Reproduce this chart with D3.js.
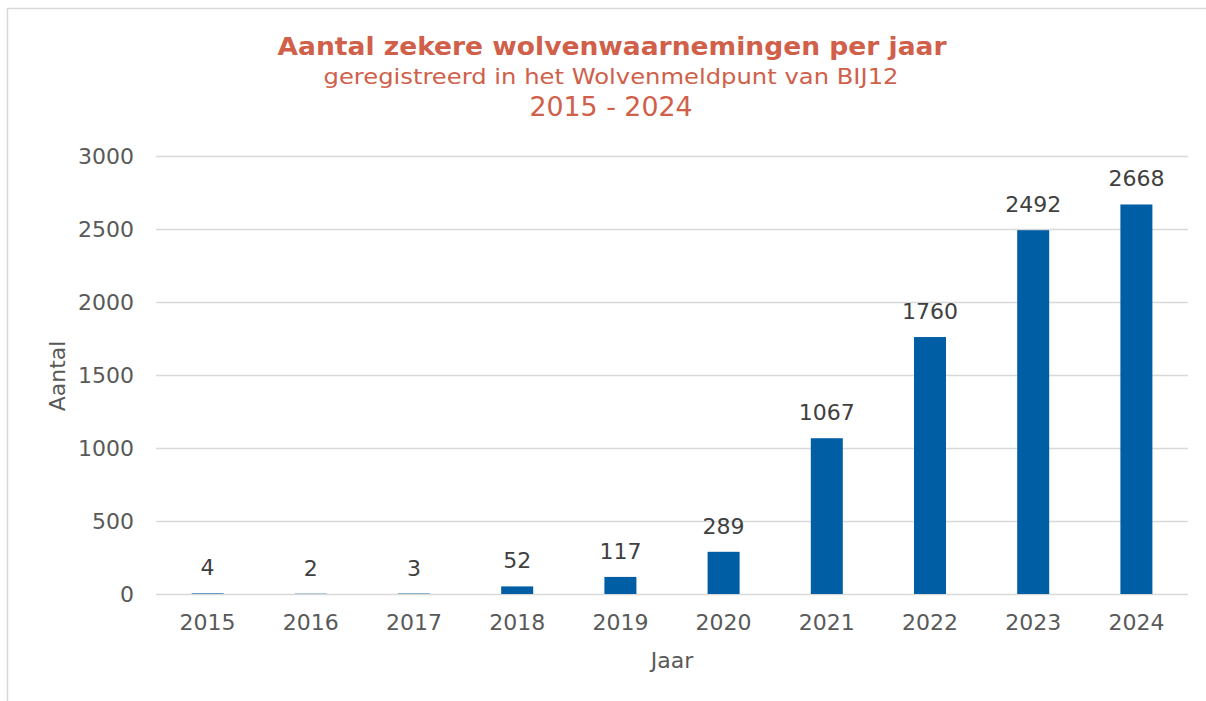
<!DOCTYPE html>
<html>
<head>
<meta charset="utf-8">
<script src="https://cdn.jsdelivr.net/npm/d3@7"></script>
<style>
  body { margin: 0; background: #fff; }
  svg text { font-family: "DejaVu Sans", Verdana, sans-serif; }
</style>
</head>
<body>
<script>
// data
let years = ["2015", "2016", "2017", "2018", "2019", "2020", "2021", "2022", "2023", "2024"];
let counts = [4, 2, 3, 52, 117, 289, 1067, 1760, 2492, 2668];
let yTicks = [0, 500, 1000, 1500, 2000, 2500, 3000];

let width = 1206,
    height = 701;

let margin = {left: 156, right: 18, top: 156, bottom: 107};

let svg = d3.select("body").append("svg")
    .attr("width", width)
    .attr("height", height);

// chart frame (only left and top edges show)
svg.append("rect")
    .attr("x", 7.5).attr("y", 8.5)
    .attr("width", 1300).attr("height", 800)
    .attr("fill", "none")
    .attr("stroke", "#d9d9d9")
    .attr("stroke-width", 1.5);

let x = d3.scaleBand()
    .domain(years)
    .range([margin.left, width - margin.right])
    .paddingInner(0.69)
    .paddingOuter(0.345);

let y = d3.scaleLinear()
    .domain([0, 3000])
    .range([height - margin.bottom, margin.top]);

// gridlines
svg.append("g")
  .selectAll("line")
  .data(yTicks)
  .enter().append("line")
    .attr("x1", margin.left)
    .attr("x2", width - margin.right)
    .attr("y1", d => Math.round(y(d)) + 0.5)
    .attr("y2", d => Math.round(y(d)) + 0.5)
    .attr("stroke", "#d9d9d9")
    .attr("stroke-width", 1.5);

// y axis labels
let yAxis = d3.axisLeft(y).tickValues(yTicks).tickFormat(d3.format("d")).tickSize(0).tickPadding(22);
let gy = svg.append("g")
    .attr("transform", "translate(" + margin.left + ",0)")
    .call(yAxis);
gy.select(".domain").remove();
gy.selectAll("text")
    .attr("fill", "#595959")
    .style("font-size", "22px")
    .style("font-family", "'DejaVu Sans', Verdana, sans-serif");

// x axis labels
let xAxis = d3.axisBottom(x).tickSize(0).tickPadding(20);
let gx = svg.append("g")
    .attr("transform", "translate(0," + (height - margin.bottom) + ")")
    .call(xAxis);
gx.select(".domain").remove();
gx.selectAll("text")
    .attr("fill", "#595959")
    .style("font-size", "22px")
    .style("font-family", "'DejaVu Sans', Verdana, sans-serif");

// bars
svg.append("g")
  .selectAll("rect")
  .data(counts)
  .enter().append("rect")
    .attr("x", (d, i) => x(years[i]))
    .attr("y", d => y(d))
    .attr("width", x.bandwidth())
    .attr("height", d => y(0) - y(d))
    .attr("fill", "#005ea5");

// value labels
svg.append("g")
  .selectAll("text")
  .data(counts)
  .enter().append("text")
    .attr("x", (d, i) => x(years[i]) + x.bandwidth() / 2)
    .attr("y", d => y(d) - 18)
    .attr("text-anchor", "middle")
    .attr("fill", "#404040")
    .style("font-size", "22px")
    .text(d => d);

// axis titles
svg.append("text")
    .attr("transform", "translate(65,376) rotate(-90)")
    .attr("text-anchor", "middle")
    .attr("fill", "#595959")
    .style("font-size", "22px")
    .text("Aantal");

svg.append("text")
    .attr("x", 672)
    .attr("y", 668)
    .attr("text-anchor", "middle")
    .attr("fill", "#595959")
    .style("font-size", "22px")
    .text("Jaar");

// titles
let titleColor = "#d0604a";
svg.append("text")
    .attr("x", 612).attr("y", 55)
    .attr("text-anchor", "middle")
    .attr("fill", titleColor)
    .style("font-size", "24px")
    .style("font-weight", "bold")
    .attr("textLength", 669)
    .attr("lengthAdjust", "spacingAndGlyphs")
    .text("Aantal zekere wolvenwaarnemingen per jaar");

svg.append("text")
    .attr("x", 611).attr("y", 84)
    .attr("text-anchor", "middle")
    .attr("fill", titleColor)
    .style("font-size", "21px")
    .attr("textLength", 575)
    .attr("lengthAdjust", "spacingAndGlyphs")
    .text("geregistreerd in het Wolvenmeldpunt van BIJ12");

svg.append("text")
    .attr("x", 611).attr("y", 116)
    .attr("text-anchor", "middle")
    .attr("fill", titleColor)
    .style("font-size", "27px")
    .attr("textLength", 163)
    .attr("lengthAdjust", "spacingAndGlyphs")
    .text("2015 - 2024");
</script>
</body>
</html>
